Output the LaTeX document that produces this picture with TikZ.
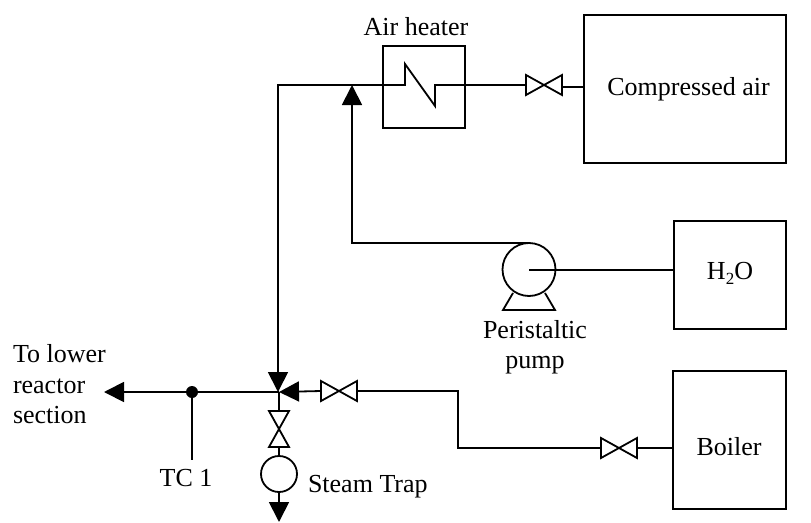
\documentclass[tikz,border=0pt]{standalone}
\usepackage{fontspec}
\setmainfont{Liberation Serif}
\usetikzlibrary{arrows.meta}
\tikzset{
  pipe/.style={line width=1.8pt,line join=miter},
  flow/.style={pipe,-{Triangle[length=20pt,width=20pt]}},
  equip/.style={draw,line width=1.8pt,rectangle,inner sep=0pt,outer sep=0pt},
  valveh/.style={inner sep=0pt,outer sep=0pt,minimum width=36pt,minimum height=20pt},
  valvev/.style={inner sep=0pt,outer sep=0pt,minimum width=20pt,minimum height=36pt},
  disc/.style={draw,line width=1.8pt,circle,inner sep=0pt,outer sep=0pt},
  lbl/.style={inner sep=0pt,outer sep=0pt,anchor=base,font=\fontsize{26}{30}\selectfont},
  lbll/.style={lbl,anchor=base west}
}
\begin{document}
\begin{tikzpicture}[x=1pt,y=-1pt]
\useasboundingbox (0,0) rectangle (811,522);
\clip (0,0) rectangle (811,522);
% equipment
\node[equip,minimum width=82pt,minimum height=82pt] (heater) at (424,87) {};
\node[equip,minimum width=202pt,minimum height=148pt] (air) at (685,89) {};
\node[equip,minimum width=112pt,minimum height=108pt] (water) at (730,275) {};
\node[equip,minimum width=113pt,minimum height=138pt] (boiler) at (729.5,440) {};
\node[disc,minimum size=53pt] (pump) at (529,269.5) {};
\node[disc,minimum size=36pt] (trap) at (279,474) {};
% valves
\node[valveh] (v1) at (544,85) {};
\node[valveh] (v2) at (339,391) {};
\node[valveh] (v3) at (619,448) {};
\node[valvev] (v4) at (279,429) {};
\foreach \v in {v1,v2,v3}
  \draw[pipe] (\v.north west) -- (\v.south east) -- (\v.north east) -- (\v.south west) -- cycle;
\draw[pipe] (v4.north west) -- (v4.north east) -- (v4.south west) -- (v4.south east) -- cycle;
% coordinates
\coordinate (j) at (279,392);
\coordinate (outl) at (104,392);
\coordinate (tc) at (192,392);
\coordinate (tcend) at (192,460);
\coordinate (drain) at (279,522);
\coordinate (pc) at (529,270);
% pipes
\draw[pipe] (heater.west |- 0,85) -- (405,85) -- (405,64) -- (435,106) -- (435,85) -- (heater.east |- 0,85);
\draw[pipe] (heater.east |- 0,85) -- (v1.west);
\draw[pipe] (v1.east |- 0,87) -- (air.west |- 0,87);
\draw[flow] (heater.west |- 0,85) -- (278,85) -- (278,392);
\draw[flow] (pump.north) -- (352,243) -- (352,85);
\draw[pipe] (pc) -- (water.west |- pc);
\draw[pipe] (513,293) -- (503,310) -- (555,310) -- (545,293);
\draw[flow] (j) -- (outl);
\draw[flow] (v2.west) -- (j);
\draw[pipe] (v2.east) -- (458,391) -- (458,448) -- (v3.west);
\draw[pipe] (v3.east) -- (boiler.west |- v3.east);
\draw[pipe] (j) -- (v4.north);
\draw[pipe] (v4.south) -- (trap.north);
\draw[flow] (trap.south) -- (drain);
\fill (tc) circle (6pt);
\draw[pipe] (tc) -- (tcend);
% labels
\node[lbl] (t1) at (416,35) {Air heater};
\node[lbl] (t2) at (688.5,95) {Compressed air};
\node[lbl] (t3) at (730,279) {H\raisebox{-0.2em}{\fontsize{17}{20}\selectfont 2}O};
\node[lbl] (t4) at (729,455) {Boiler};
\node[lbl] (t5) at (535,338) {Peristaltic};
\node[lbl] (t6) at (535,368) {pump};
\node[lbl] (t7) at (186,486) {TC 1};
\node[lbll] (t8) at (308,492) {Steam Trap};
\node[lbll] (t9) at (13,362) {To lower};
\node[lbll] (t10) at (13,393) {reactor};
\node[lbll] (t11) at (13,423) {section};
\end{tikzpicture}
\end{document}
